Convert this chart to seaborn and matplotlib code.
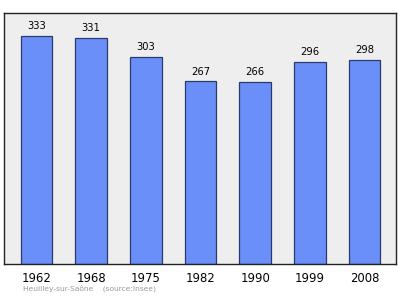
import matplotlib
matplotlib.use("Agg")
import matplotlib.pyplot as plt
import seaborn as sns
import pandas as pd

years = ["1962", "1968", "1975", "1982", "1990", "1999", "2008"]
population = [333, 331, 303, 267, 266, 296, 298]
caption = "Heuilley-sur-Saône    (source:Insee)"

df = pd.DataFrame({"year": years, "pop": population})

sns.set_theme(style="white")
plt.rcParams['font.family'] = ['DejaVu Sans']

fig = plt.figure(figsize=(4.0, 2.99), dpi=100)
ax = fig.add_axes([0.01, 0.117, 0.98, 0.8395])
ax.set_facecolor("#eeeeee")

sns.barplot(data=df, x="year", y="pop", color="#6b8ff8", saturation=1,
            width=0.576, edgecolor="#2b3a6b", linewidth=0.9, ax=ax)

for i, v in enumerate(population):
    ax.text(i, v + 7, str(v), ha="center", va="bottom", fontsize=7.2, color="black")

ax.set_xlim(-0.594, 6.576)
ax.set_ylim(0, 367)
ax.set_yticks([])
ax.set_xlabel("")
ax.set_ylabel("")
ax.tick_params(axis="x", length=0, pad=6, labelsize=8.4, colors="black")
for s in ax.spines.values():
    s.set_color("#222222")
    s.set_linewidth(1.0)

fig.text(0.058, 0.022, caption, fontsize=5.4, color="#999999", ha="left", va="bottom")

fig.savefig("out.png", dpi=100, facecolor="white")
